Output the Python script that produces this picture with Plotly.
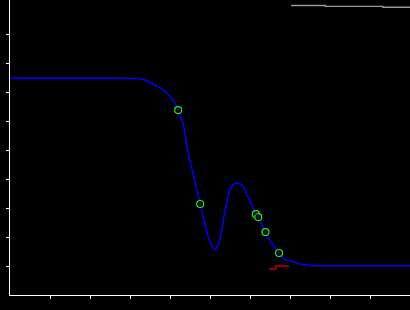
import plotly.graph_objects as go

# Blue curve (data units)
curve_x = [0.0, 1.5, 2.5, 2.9, 3.17, 3.37, 3.62, 3.83, 3.99, 4.12, 4.20, 4.33, 4.44,
           4.59, 4.75, 4.87, 4.94, 5.02, 5.07, 5.12, 5.17, 5.22, 5.27, 5.33, 5.41,
           5.49, 5.57, 5.66, 5.74, 5.83, 5.89, 5.99, 6.14, 6.20, 6.38, 6.54, 6.72,
           6.87, 7.08, 7.20, 7.37, 7.62, 8.5, 9.99]
curve_y = [7.48, 7.48, 7.48, 7.48, 7.47, 7.42, 7.25, 7.08, 6.85, 6.62, 6.38, 5.87,
           4.98, 4.07, 3.14, 2.46, 2.04, 1.77, 1.63, 1.59, 1.63, 1.80, 2.11, 2.60,
           3.17, 3.63, 3.80, 3.87, 3.84, 3.74, 3.56, 3.27, 2.79, 2.69, 2.17, 1.79,
           1.45, 1.22, 1.14, 1.08, 1.04, 1.01, 1.01, 1.01]

# Green sample points
pts_x = [4.20, 4.75, 6.14, 6.20, 6.38, 6.72]
pts_y = [6.38, 3.14, 2.79, 2.69, 2.17, 1.45]

# Red step line
red_x = [6.47, 6.635, 6.965]
red_y = [0.90, 1.00, 1.00]

# Gray step line
gray_x = [7.02, 7.875, 9.31, 9.99]
gray_y = [9.99, 9.96, 9.93, 9.93]

tick_vals = [1, 2, 3, 4, 5, 6, 7, 8, 9]

fig = go.Figure()
fig.add_trace(go.Scatter(x=gray_x, y=gray_y, mode="lines", line_shape="hv",
                         line=dict(color="#9a9a9a", width=1.3)))
fig.add_trace(go.Scatter(x=red_x, y=red_y, mode="lines", line_shape="hv",
                         line=dict(color="#c00000", width=1.5)))
fig.add_trace(go.Scatter(x=curve_x, y=curve_y, mode="lines", line_shape="spline",
                         line=dict(color="#0000ff", width=1.5, smoothing=0.7)))
fig.add_trace(go.Scatter(x=pts_x, y=pts_y, mode="markers",
                         marker=dict(symbol="circle", size=7, color="black",
                                     line=dict(color="#22ee22", width=1.2))))
fig.add_trace(go.Scatter(x=pts_x, y=pts_y, mode="markers",
                         marker=dict(symbol="circle", size=2, color="#1010a0")))

axis_common = dict(showgrid=False, zeroline=False, showline=True, linecolor="white",
                   linewidth=1, ticks="outside", ticklen=3, tickcolor="white",
                   tickwidth=1, showticklabels=False, tickvals=tick_vals)

fig.update_layout(
    width=410, height=310,
    margin=dict(l=10, r=0, t=0, b=15),
    paper_bgcolor="black", plot_bgcolor="black",
    showlegend=False,
    xaxis=dict(range=[0, 9.99], **axis_common),
    yaxis=dict(range=[0, 10.18], **axis_common),
)

fig.write_html("out.html")
